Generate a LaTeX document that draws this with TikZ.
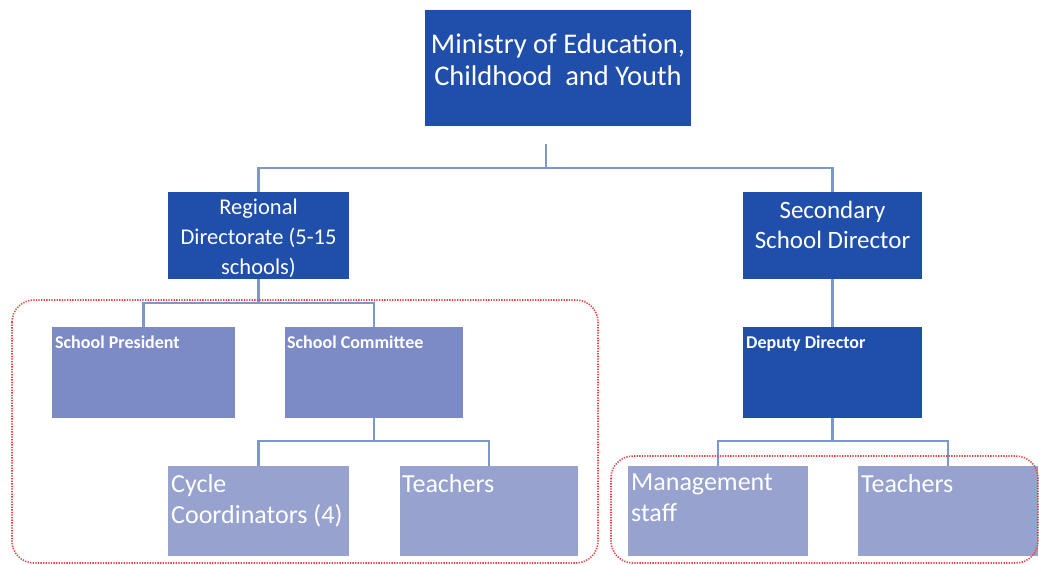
\documentclass[tikz,border=0pt]{standalone}
\usepackage{fontspec}
\setmainfont{Carlito}
\definecolor{dark}{RGB}{31,79,170}
\definecolor{mid}{RGB}{124,139,198}
\definecolor{light}{RGB}{151,162,206}
\definecolor{conn}{RGB}{125,150,206}
\definecolor{reddot}{RGB}{226,72,72}
\begin{document}
\begin{tikzpicture}[x=1pt,y=-1pt,
  box/.style={rectangle,inner sep=0pt,minimum width=#1},
  dbox/.style={box=#1,fill=dark},
  mbox/.style={box=#1,fill=mid},
  lbox/.style={box=#1,fill=light},
  txt/.style={text=white,inner sep=0pt,anchor=north west,align=left},
  ctxt/.style={text=white,inner sep=0pt,align=center},
  connector/.style={draw=conn,line width=2.6pt},
  group/.style={draw=reddot,line width=1.6pt,dash pattern=on 1.3pt off 1.3pt,rounded corners=22pt}]
\useasboundingbox (0,0) rectangle (1039,565);
% boxes
\node[dbox=266pt,minimum height=116pt] (min) at (558,68) {};
\node[dbox=181pt,minimum height=87pt] (reg) at (258.5,235.5) {};
\node[dbox=179pt,minimum height=87pt] (sec) at (832.5,235.5) {};
\node[dbox=179pt,minimum height=91pt] (dep) at (832.5,372.5) {};
\node[mbox=183pt,minimum height=91pt] (sp) at (143.5,372.5) {};
\node[mbox=178pt,minimum height=91pt] (sc) at (374,372.5) {};
\node[lbox=181pt,minimum height=90pt] (cyc) at (258.5,511) {};
\node[lbox=178pt,minimum height=90pt] (t1) at (489,511) {};
\node[lbox=180pt,minimum height=90pt] (ms) at (718,511) {};
\node[lbox=180pt,minimum height=90pt] (t2) at (948,511) {};
% texts
\node[ctxt,font=\fontsize{28.5}{32}\selectfont] (mint) at (558,60) {Ministry of Education,\\Childhood\ \ and Youth};
\node[ctxt,font=\fontsize{22.5}{30}\selectfont] (regt) at (258.5,238) {Regional\\Directorate (5-15\\schools)};
\node[ctxt,font=\fontsize{25}{30}\selectfont] (sect) at (832.5,225) {Secondary\\School Director};
\node[txt,font=\bfseries\fontsize{18}{20}\selectfont] (spt) at (55,336) {School President};
\node[txt,font=\bfseries\fontsize{18}{20}\selectfont] (sct) at (287,336) {School Committee};
\node[txt,font=\bfseries\fontsize{18}{20}\selectfont] (dept) at (746,336) {Deputy Director};
\node[txt,font=\fontsize{26}{31}\selectfont] (cyct) at (171,474) {Cycle\\Coordinators (4)};
\node[txt,font=\fontsize{26}{31}\selectfont] (t1t) at (402,474) {Teachers};
\node[txt,font=\fontsize{26}{31}\selectfont] (mst) at (631,474) {Management\\staff};
\node[txt,font=\fontsize{26}{31}\selectfont] (t2t) at (861,474) {Teachers};
% connectors
\coordinate (stub) at (546,144);
\coordinate (j1) at (546,168);
\coordinate (j2) at (258.5,303);
\coordinate (j3) at (374,441);
\coordinate (j4) at (832.5,441);
\draw[connector] (stub) -- (j1);
\draw[connector] (j1) -| (reg.north);
\draw[connector] (j1) -| (sec.north);
\draw[connector] (reg.south) -- (j2);
\draw[connector] (j2) -| (sp.north);
\draw[connector] (j2) -| (sc.north);
\draw[connector] (sc.south) -- (j3);
\draw[connector] (j3) -| (cyc.north);
\draw[connector] (j3) -| (t1.north);
\draw[connector] (sec.south) -- (dep.north);
\draw[connector] (dep.south) -- (j4);
\draw[connector] (j4) -| (ms.north);
\draw[connector] (j4) -| (t2.north);
% groups
\draw[group] (12,300) rectangle (598,563);
\draw[group] (611,456) rectangle (1038,563);
\end{tikzpicture}
\end{document}
